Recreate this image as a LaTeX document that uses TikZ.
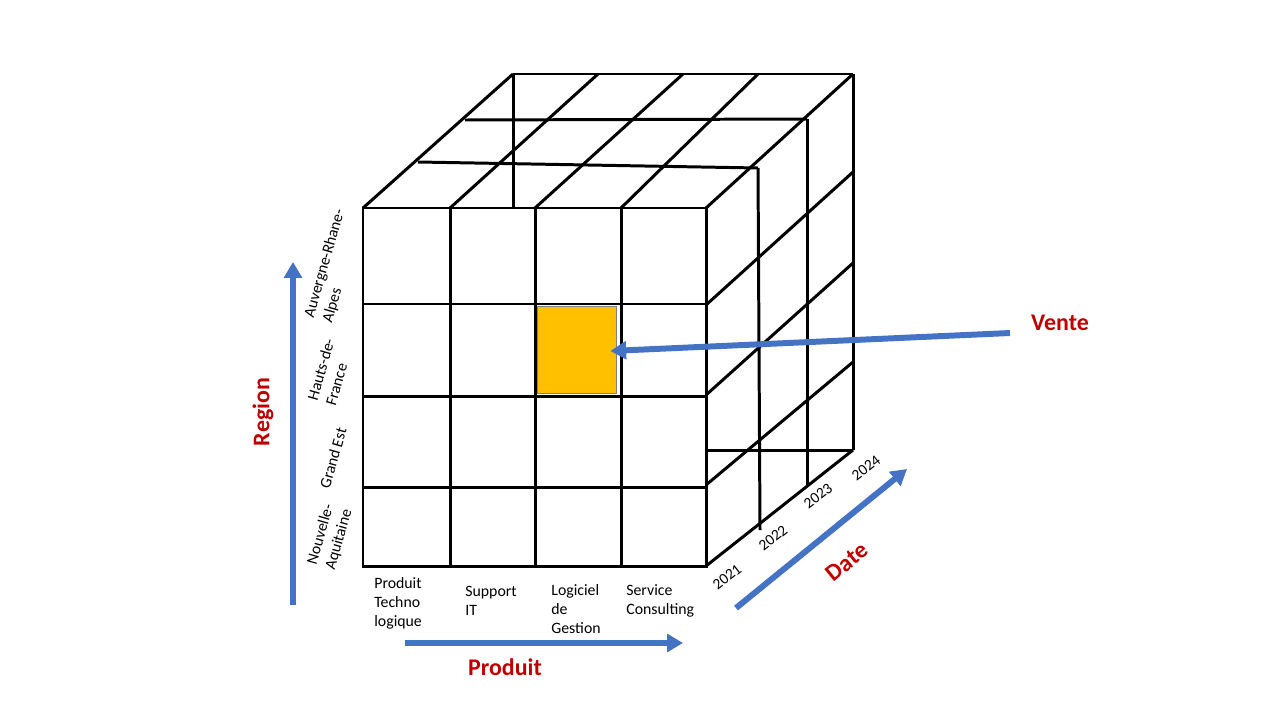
\documentclass[tikz,border=0pt]{standalone}
\usepackage{fontspec}
\setmainfont{Carlito}
\usetikzlibrary{arrows.meta,positioning,calc}
\definecolor{axisblue}{RGB}{68,114,196}
\definecolor{axisred}{RGB}{192,0,0}
\definecolor{cellgold}{RGB}{255,192,0}
\tikzset{
  cubeline/.style={line width=1.7pt,draw=black},
  axisflow/.style={-{Triangle[length=9pt,width=10pt]},line width=3.4pt,draw=axisblue},
  axisname/.style={font=\fontsize{13.6}{16}\selectfont\bfseries,text=axisred,inner sep=1pt},
  itemname/.style={font=\fontsize{9}{10.8}\selectfont,align=left,inner sep=0pt},
  regionname/.style={itemname,rotate=74},
  yearname/.style={font=\fontsize{8.8}{10}\selectfont,rotate=38,inner sep=0pt}
}
\begin{document}
\begin{tikzpicture}[x=0.02cm,y=-0.02cm]
  \useasboundingbox (0,0) rectangle (1280,720);
  % front face
  \draw[cubeline] (363,208) rectangle (706,566);
  \foreach \x in {450,535,621} \draw[cubeline] (\x,208) -- (\x,566);
  \foreach \y in {304,396,487} \draw[cubeline] (363,\y) -- (706,\y);
  % top face
  \foreach \xa/\xb in {363/513,450/598,535/683,621/758,706/853}
    \draw[cubeline] (\xa,208) -- (\xb,74);
  \draw[cubeline] (513,74) -- (853,74);
  \draw[cubeline] (465,120) -- (807,119);
  \draw[cubeline] (418,162) -- (758,168);
  \draw[cubeline] (513,74) -- (513,208);
  % right face
  \foreach \ya/\yb in {305/172,395/263,485/362,566/450}
    \draw[cubeline] (706,\ya) -- (853,\yb);
  \draw[cubeline] (853,74) -- (853,450);
  \draw[cubeline] (807,119) -- (807,485);
  \draw[cubeline] (758,168) -- (760,530);
  \draw[cubeline] (706,450) -- (853,450);

  \node[draw=black!50,line width=0.4pt,fill=cellgold,minimum width=1.58cm,minimum height=1.74cm,inner sep=0pt] (cell) at (576.5,349.5) {};

  % axes
  \coordinate (regionTail) at (293,605);
  \coordinate (regionTip) at (293,262);
  \coordinate (produitTail) at (405,643);
  \coordinate (produitTip) at (683,643);
  \coordinate (dateTail) at (736,608);
  \coordinate (dateTip) at (907,469);
  \coordinate (venteTail) at (1010,333);
  \draw[axisflow] (regionTail) -- (regionTip);
  \draw[axisflow] (produitTail) -- (produitTip);
  \draw[axisflow] (dateTail) -- (dateTip);
  \draw[axisflow] (venteTail) -- ($(cell.east)+(-6,1.5)$);

  \node[axisname,rotate=90] (region) at (263,412) {Region};
  \node[axisname] (produit) at (505,667) {Produit};
  \node[axisname,rotate=39] (date) at (847,562) {Date};
  \node[axisname] (vente) at (1060,323) {Vente};

  % region names
  \node[regionname] (arAlpes) at (334,266) {Auvergne-Rhane-\\Alpes};
  \node[regionname] (hdFrance) at (330,372) {Hauts-de-\\France};
  \node[regionname] (gEst) at (333,458) {Grand Est};
  \node[regionname] (nAquitaine) at (330,537) {Nouvelle-\\Aquitaine};

  % product names
  \node[itemname,anchor=north west] (pTechno) at (374,577) {Produit\\Techno\\logique};
  \node[itemname,anchor=north west] (pSupport) at (465,586) {Support\\IT};
  \node[itemname,anchor=north west] (pLogiciel) at (551,584) {Logiciel\\de\\Gestion};
  \node[itemname,anchor=north west] (pService) at (626,584) {Service\\Consulting};

  % years
  \node[yearname] (y2021) at (727,577) {2021};
  \node[yearname] (y2022) at (773,538) {2022};
  \node[yearname] (y2023) at (818,496) {2023};
  \node[yearname] (y2024) at (866,468) {2024};
\end{tikzpicture}
\end{document}
